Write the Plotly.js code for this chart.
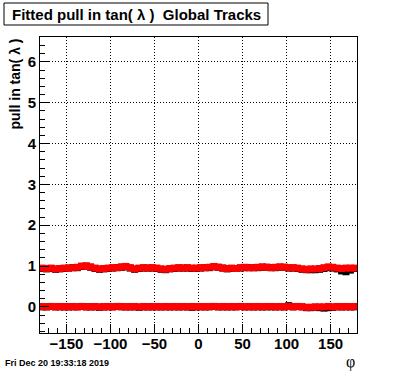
<!DOCTYPE html>
<html><head><meta charset="utf-8">
<script src="https://cdn.plot.ly/plotly-3.0.1.min.js"></script>
<style>body{margin:0;background:#fff}#c{width:396px;height:372px}</style>
</head><body><div id="c"></div>
<script>
const phi = [-177.5,-172.5,-167.5,-162.5,-157.5,-152.5,-147.5,-142.5,-137.5,-132.5,-127.5,-122.5,-117.5,-112.5,-107.5,-102.5,-97.5,-92.5,-87.5,-82.5,-77.5,-72.5,-67.5,-62.5,-57.5,-52.5,-47.5,-42.5,-37.5,-32.5,-27.5,-22.5,-17.5,-12.5,-7.5,-2.5,2.5,7.5,12.5,17.5,22.5,27.5,32.5,37.5,42.5,47.5,52.5,57.5,62.5,67.5,72.5,77.5,82.5,87.5,92.5,97.5,102.5,107.5,112.5,117.5,122.5,127.5,132.5,137.5,142.5,147.5,152.5,157.5,162.5,167.5,172.5,177.5];
const sigmaRed = [0.95,0.94,0.95,0.93,0.94,0.95,0.95,0.96,0.97,1.00,1.00,0.98,0.95,0.93,0.94,0.95,0.96,0.96,0.98,0.99,0.96,0.93,0.95,0.96,0.95,0.96,0.95,0.93,0.92,0.94,0.95,0.96,0.95,0.96,0.95,0.95,0.96,0.96,0.97,0.99,0.97,0.95,0.94,0.95,0.94,0.96,0.97,0.96,0.96,0.97,0.98,0.97,0.96,0.97,0.98,0.97,0.96,0.96,0.95,0.93,0.92,0.93,0.93,0.94,0.96,0.98,0.97,0.95,0.94,0.95,0.95,0.95];
const sigmaBlack = [0.94,0.93,0.94,0.92,0.93,0.94,0.95,0.96,0.96,0.99,1.00,0.97,0.94,0.92,0.93,0.94,0.95,0.96,0.97,0.98,0.95,0.92,0.94,0.95,0.95,0.95,0.94,0.92,0.91,0.93,0.94,0.95,0.95,0.95,0.94,0.94,0.95,0.96,0.96,0.98,0.97,0.95,0.93,0.94,0.94,0.95,0.96,0.96,0.96,0.96,0.97,0.97,0.96,0.96,0.97,0.97,0.95,0.95,0.94,0.92,0.91,0.91,0.91,0.92,0.94,0.96,0.95,0.93,0.88,0.86,0.90,0.94];
const meanRed = [0.01,0.00,0.01,0.00,0.01,0.00,0.00,0.01,0.00,0.01,0.00,0.00,0.01,0.00,0.00,0.01,0.00,0.01,0.01,0.00,0.00,0.01,0.00,0.01,0.00,0.00,0.01,0.00,0.01,0.00,0.01,0.00,0.01,0.00,0.01,0.00,0.01,0.00,0.01,0.01,0.00,0.01,0.00,0.01,0.00,0.01,0.00,0.01,0.00,0.01,0.00,0.01,0.01,0.00,0.01,0.00,0.01,0.00,0.01,0.00,-0.01,-0.01,0.00,0.00,0.00,0.01,0.00,0.01,0.00,0.01,0.00,0.01];
const meanBlack = [0.00,0.00,0.01,0.00,0.00,0.00,0.00,0.00,0.00,0.01,0.00,0.00,0.00,-0.01,0.00,0.00,0.00,0.01,0.00,0.00,0.00,0.00,-0.01,0.00,0.00,0.00,0.00,0.00,0.00,0.00,0.00,0.00,0.00,0.00,-0.01,0.00,0.00,0.00,0.00,0.01,0.00,0.00,0.00,0.00,0.00,0.01,0.00,0.00,0.00,0.00,0.00,0.00,0.00,0.00,0.00,0.00,0.03,0.00,0.01,0.00,-0.02,-0.02,-0.01,-0.02,-0.03,-0.02,-0.01,0.00,0.00,0.00,0.00,0.00];
const meanErr = [0.04,0.04,0.04,0.04,0.04,0.04,0.04,0.04,0.04,0.04,0.04,0.04,0.04,0.04,0.04,0.04,0.04,0.04,0.04,0.04,0.04,0.04,0.04,0.04,0.04,0.04,0.04,0.04,0.04,0.04,0.04,0.04,0.04,0.04,0.04,0.04,0.04,0.04,0.04,0.04,0.04,0.04,0.04,0.04,0.04,0.04,0.04,0.04,0.04,0.04,0.04,0.04,0.04,0.04,0.04,0.04,0.04,0.04,0.04,0.04,0.04,0.04,0.04,0.04,0.04,0.04,0.04,0.04,0.04,0.04,0.04,0.04];
const titleText = 'Fitted pull in tan( λ )  Global Tracks';
const yTitle = 'pull in tan( λ )';
const xTitle = 'φ';
const dateText = 'Fri Dec 20 19:33:18 2019';

const W = 396, H = 372, mL = 40, mR = 39, mT = 37, mB = 39;
const pw = W - mL - mR, ph = H - mT - mB;
const px = v => (v - mL) / pw;
const py = v => (H - mB - v) / ph;

const mk = (y, color, err) => {
  const t = {x: phi, y: y, type: 'scatter', mode: 'markers',
    marker: {symbol: 'square', size: 7, color: color, line: {width: 0}}, hoverinfo: 'skip'};
  if (err) t.error_y = {type: 'data', array: err, visible: true, color: color, thickness: 1, width: 0};
  return t;
};
const data = [
  mk(sigmaBlack, '#000000', null),
  mk(meanBlack, '#000000', meanErr),
  mk(sigmaRed, '#ff0000', null),
  mk(meanRed, '#ff0000', meanErr)
];
const font = {family: 'Liberation Sans, Arial, sans-serif', color: '#000', weight: 'bold'};
const grid = {showgrid: true, gridcolor: '#000', griddash: '1px,2px', gridwidth: 1, zeroline: false,
  showline: true, linecolor: '#000', linewidth: 1, mirror: true};
const layout = {
  width: W, height: H, showlegend: false,
  margin: {l: mL, r: mR, t: mT, b: mB, pad: 0},
  paper_bgcolor: '#fff', plot_bgcolor: '#fff',
  xaxis: Object.assign({range: [-180, 180], dtick: 50, tick0: 0, ticks: 'inside', ticklen: 9, tickcolor: '#000', tickwidth: 1,
    minor: {dtick: 10, tick0: 0, ticks: 'inside', ticklen: 5, tickcolor: '#000', showgrid: false},
    ticklabelstandoff: -3,
    tickfont: Object.assign({size: 15}, font), tickformat: 'd'}, grid),
  yaxis: Object.assign({range: [-0.64, 6.61], dtick: 1, tick0: 0, ticks: 'inside', ticklen: 9, tickcolor: '#000', tickwidth: 1,
    minor: {dtick: 0.2, tick0: 0, ticks: 'inside', ticklen: 5, tickcolor: '#000', showgrid: false},
    tickfont: Object.assign({size: 15}, font)}, grid),
  shapes: [{type: 'rect', xref: 'paper', yref: 'paper', x0: px(4), x1: px(268), y0: py(25), y1: py(3),
    line: {color: '#000', width: 1}, fillcolor: '#fff', layer: 'above'}],
  annotations: [
    {text: titleText, xref: 'paper', yref: 'paper', x: px(136), y: py(14), xanchor: 'center', yanchor: 'middle',
      showarrow: false, font: Object.assign({size: 15}, font)},
    {text: yTitle, xref: 'paper', yref: 'paper', x: px(14), y: 1, xanchor: 'center', yanchor: 'top', textangle: -90,
      showarrow: false, font: Object.assign({size: 14}, font)},
    {text: xTitle, xref: 'paper', yref: 'paper', x: px(357), y: py(362), xanchor: 'right', yanchor: 'middle',
      showarrow: false, font: {size: 16, family: 'Liberation Serif, DejaVu Serif, serif', color: '#000'}},
    {text: dateText, xref: 'paper', yref: 'paper', x: px(3), y: py(363), xanchor: 'left', yanchor: 'middle',
      showarrow: false, font: Object.assign({size: 9}, font)}
  ]
};
Plotly.newPlot('c', data, layout, {staticPlot: true, displayModeBar: false});
</script></body></html>
